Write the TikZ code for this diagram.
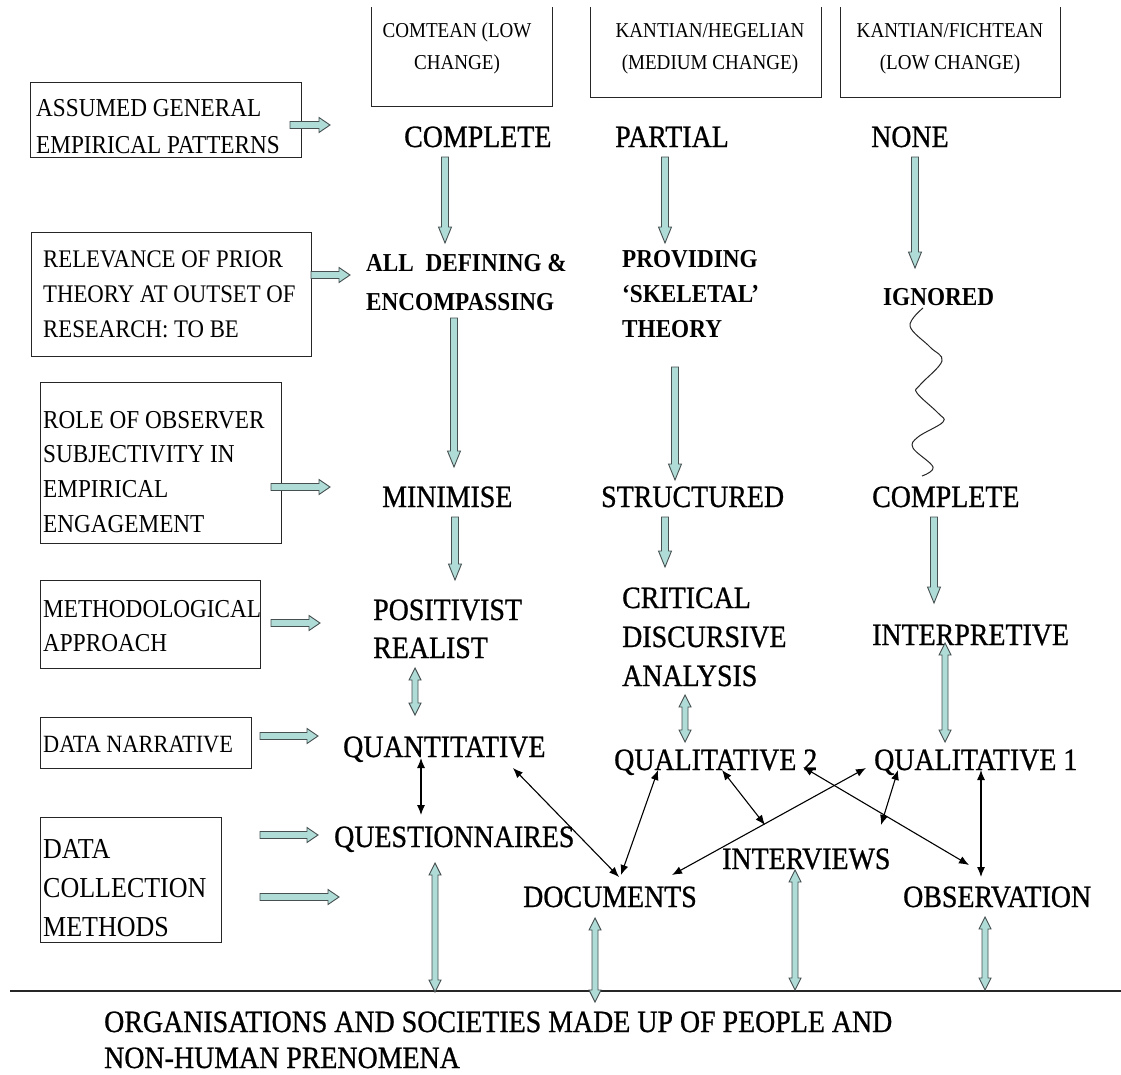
\documentclass[tikz,border=0pt]{standalone}
\usepackage{fontspec}
\setmainfont{Liberation Serif}[FakeStretch=0.9]
\newfontfamily\valfont{Liberation Serif}[FakeStretch=0.9, FakeBold=0.8]
\usetikzlibrary{calc,arrows.meta}

\definecolor{arrowfill}{RGB}{176,220,216}
\definecolor{arrowedge}{RGB}{70,80,80}

% stacked lines, baseline on the first line
\newcommand\lstack[1]{\begin{tabular}[t]{@{}l@{}}#1\end{tabular}}
\newcommand\cstack[1]{\begin{tabular}[t]{@{}c@{}}#1\end{tabular}}

% block arrows: right, down, and double vertical
\newcommand\rblk[2]{\path[blk] let \p1=#1, \p2=#2 in
  (\x1,\y1+3.5pt) -- (\x2-11pt,\y1+3.5pt) -- (\x2-11pt,\y1+7.5pt) -- (\x2,\y1)
  -- (\x2-11pt,\y1-7.5pt) -- (\x2-11pt,\y1-3.5pt) -- (\x1,\y1-3.5pt) -- cycle;}
\newcommand\dblk[2]{\path[blk] let \p1=#1, \p2=#2 in
  (\x1-3.5pt,\y1) -- (\x1-3.5pt,\y2+16pt) -- (\x1-6.5pt,\y2+16pt) -- (\x1,\y2)
  -- (\x1+6.5pt,\y2+16pt) -- (\x1+3.5pt,\y2+16pt) -- (\x1+3.5pt,\y1) -- cycle;}
\newcommand\ddblk[2]{\path[blk] let \p1=#1, \p2=#2 in
  (\x1,\y1) -- (\x1+6pt,\y1-12pt) -- (\x1+3pt,\y1-12pt) -- (\x1+3pt,\y2+12pt)
  -- (\x1+6pt,\y2+12pt) -- (\x1,\y2) -- (\x1-6pt,\y2+12pt) -- (\x1-3pt,\y2+12pt)
  -- (\x1-3pt,\y1-12pt) -- (\x1-6pt,\y1-12pt) -- cycle;}

\tikzset{
  lbl/.style={inner sep=0pt, anchor=base west, font=\fontsize{25.8}{35}\selectfont},
  hdr/.style={inner sep=0pt, anchor=base, font=\fontsize{21.2}{32}\selectfont},
  val/.style={inner sep=0pt, anchor=base west, font=\valfont\fontsize{31}{38}\selectfont},
  valb/.style={inner sep=0pt, anchor=base west, font=\bfseries\fontsize{25.8}{35}\selectfont},
  labelbox/.style={draw=black!85, line width=1pt, inner sep=0pt, anchor=north west},
  headbox/.style={draw=black!85, line width=1pt, inner sep=0pt, anchor=south west},
  blk/.style={draw=arrowedge, fill=arrowfill, line width=0.9pt, line join=miter},
  link/.style={draw=black, line width=1.1pt,
    {Latex[length=10pt,width=8pt]}-{Latex[length=10pt,width=8pt]}},
}

\begin{document}
\begin{tikzpicture}[x=1pt, y=-1pt]
\fill[white] (0,0) rectangle (1121,1074);
\useasboundingbox (0,0) rectangle (1121,1074);

% column header boxes (their tops run off the page)
\begin{scope}
  \clip (0,7) rectangle (1121,1074);
  \node[headbox, minimum width=181pt, minimum height=130pt] (hb1) at (371,107) {};
  \node[headbox, minimum width=231pt, minimum height=130pt] (hb2) at (590,98) {};
  \node[headbox, minimum width=220pt, minimum height=130pt] (hb3) at (840,98) {};
\end{scope}
\node[hdr] (h1) at (457,37) {\cstack{COMTEAN (LOW\\CHANGE)}};
\node[hdr] (h2) at (710,37) {\cstack{KANTIAN/HEGELIAN\\(MEDIUM CHANGE)}};
\node[hdr] (h3) at (950,37) {\cstack{KANTIAN/FICHTEAN\\(LOW CHANGE)}};

% row label boxes
\node[labelbox, minimum width=271pt, minimum height=75pt] (bA) at (30,82) {};
\node[labelbox, minimum width=280pt, minimum height=124pt] (bB) at (31,232) {};
\node[labelbox, minimum width=241pt, minimum height=161pt] (bC) at (40,382) {};
\node[labelbox, minimum width=220pt, minimum height=88pt] (bD) at (40,580) {};
\node[labelbox, minimum width=211pt, minimum height=51pt] (bE) at (40,717) {};
\node[labelbox, minimum width=181pt, minimum height=125pt] (bF) at (40,817) {};

\node[lbl, font=\fontsize{25.8}{37}\selectfont] (tA) at (36,116)
  {\lstack{ASSUMED GENERAL\\EMPIRICAL PATTERNS}};
\node[lbl, font=\fontsize{25.3}{35}\selectfont] (tB) at (43,267)
  {\lstack{RELEVANCE OF PRIOR\\THEORY AT OUTSET OF\\RESEARCH: TO BE}};
\node[lbl, font=\fontsize{25.8}{34.7}\selectfont] (tC) at (43,428)
  {\lstack{ROLE OF OBSERVER\\SUBJECTIVITY IN\\EMPIRICAL\\ENGAGEMENT}};
\node[lbl, font=\fontsize{25.8}{34}\selectfont] (tD) at (43,617)
  {\lstack{METHODOLOGICAL\\APPROACH}};
\node[lbl, font=\fontsize{24.8}{34}\selectfont] (tE) at (43,752) {DATA NARRATIVE};
\node[lbl, font=\fontsize{28.9}{39}\selectfont] (tF) at (43,858)
  {\lstack{DATA\\COLLECTION\\METHODS}};

% column 1
\node[val] (c1a) at (404,147) {COMPLETE};
\node[valb, font=\bfseries\fontsize{25.8}{39}\selectfont] (c1b) at (366,271)
  {\lstack{ALL~~DEFINING \&\\ENCOMPASSING}};
\node[val] (c1c) at (382,507) {MINIMISE};
\node[val] (c1d) at (373,620) {\lstack{POSITIVIST\\REALIST}};
\node[val] (c1e) at (343,757) {QUANTITATIVE};
\node[val] (c1f) at (334,847) {QUESTIONNAIRES};

% column 2
\node[val] (c2a) at (615,147) {PARTIAL};
\node[valb] (c2b) at (622,267) {\lstack{PROVIDING\\‘SKELETAL’\\THEORY}};
\node[val] (c2c) at (601,507) {STRUCTURED};
\node[val, font=\valfont\fontsize{31}{39}\selectfont] (c2d) at (622,608)
  {\lstack{CRITICAL\\DISCURSIVE\\ANALYSIS}};
\node[val] (c2e) at (614,770) {QUALITATIVE 2};

% column 3
\node[val] (c3a) at (871,147) {NONE};
\node[valb] (c3b) at (883,305) {IGNORED};
\node[val] (c3c) at (872,507) {COMPLETE};
\node[val] (c3d) at (872,645) {INTERPRETIVE};
\node[val] (c3e) at (874,770) {QUALITATIVE 1};

% data collection methods
\node[val] (dc) at (523,907) {DOCUMENTS};
\node[val] (iv) at (722,869) {INTERVIEWS};
\node[val] (ob) at (903,907) {OBSERVATION};

% ground line and the text below it
\coordinate (gL) at (10,991);
\coordinate (gR) at (1121,991);
\draw[line width=1.1pt, black!85] (gL) -- (gR);
\node[val, font=\valfont\fontsize{31}{36}\selectfont] (org) at (104,1032)
  {\lstack{ORGANISATIONS AND SOCIETIES MADE UP OF PEOPLE AND\\NON-HUMAN PRENOMENA}};

% arrows from the row labels
\rblk{($(bA.north east)+(-12,43)$)}{($(c1a.base west)+(-74,0)$)}
\rblk{($(bB.north east)+(-1,43)$)}{($(c1b.base west)+(-16,0)$)}
\rblk{($(bC.north east)+(-11,105)$)}{($(c1c.base west)+(-52,0)$)}
\rblk{($(bD.north east)+(10,43)$)}{($(c1d.base west)+(-53,0)$)}
\rblk{($(bE.north east)+(8,19)$)}{($(c1e.base west)+(-25,0)$)}
\rblk{($(bF.north east)+(38,18)$)}{($(c1f.base west)+(-16,0)$)}
\rblk{($(bF.north east)+(38,80)$)}{($(dc.base west)+(-184,0)$)}

% column 1 flow
\dblk{($(c1a.base west)+(41,10)$)}{($(c1b.base west)+(79,-28)$)}
\dblk{($(c1b.base west)+(88,47)$)}{($(c1c.base west)+(72,-40)$)}
\dblk{($(c1c.base west)+(73,10)$)}{($(c1d.base west)+(82,-40)$)}
\ddblk{($(c1d.base west)+(42,48)$)}{($(c1e.base west)+(72,-42)$)}

% column 2 flow
\dblk{($(c2a.base west)+(50,10)$)}{($(c2b.base west)+(43,-24)$)}
\dblk{($(c2b.base west)+(53,100)$)}{($(c2c.base west)+(74,-27)$)}
\dblk{($(c2c.base west)+(64,10)$)}{($(c2d.base west)+(43,-41)$)}
\ddblk{($(c2d.base west)+(63,87)$)}{($(c2e.base west)+(71,-28)$)}

% column 3 flow
\dblk{($(c3a.base west)+(44,10)$)}{($(c3b.base west)+(32,-37)$)}
\coordinate (sq0) at ($(c3b.base west)+(40,3)$);
\coordinate (sq1) at ($(c3c.base west)+(50,-31)$);
\draw[line width=1pt, black!85] plot[smooth, tension=0.6] coordinates
  {(sq0) (910,326) (930,347) (942,361) (920,385) (917,393) (938,413) (943,422)
   (918,437) (913,448) (933,467) (sq1)};
\dblk{($(c3c.base west)+(62,10)$)}{($(c3d.base west)+(62,-42)$)}
\ddblk{($(c3d.base west)+(73,-2)$)}{($(c3e.base west)+(71,-28)$)}

% links between data narratives and collection methods
\coordinate (ivA) at ($(iv.base west)+(43,-44)$);
\coordinate (ivB) at ($(iv.base west)+(159,-44)$);
\draw[link] ($(c1e.base west)+(78,1)$) -- ($(c1f.base west)+(87,-32)$);
\draw[link] ($(c1e.base west)+(170,11)$) -- ($(dc.base west)+(96,-30)$);
\draw[link] ($(c2e.base west)+(44,0)$) -- ($(dc.base west)+(98,-32)$);
\draw[link] ($(c2e.base west)+(108,0)$) -- (ivA);
\draw[link] ($(dc.base west)+(149,-32)$) -- ($(c3e.base west)+(-8,-2)$);
\draw[link] ($(c2e.base west)+(189,-3)$) -- ($(ob.base west)+(66,-42)$);
\draw[link] ($(c3e.base west)+(24,0)$) -- (ivB);
\draw[link] ($(c3e.base west)+(107,0)$) -- ($(ob.base west)+(78,-30)$);

% collection methods down to the ground line
\ddblk{($(c1f.base west)+(101,16)$)}{($(gL)+(0,1)$)}
\ddblk{($(dc.base west)+(72,11)$)}{($(gL)+(0,11)$)}
\ddblk{($(iv.base west)+(73,1)$)}{($(gL)+(0,-1)$)}
\ddblk{($(ob.base west)+(82,10)$)}{($(gL)+(0,-1)$)}
\end{tikzpicture}
\end{document}
